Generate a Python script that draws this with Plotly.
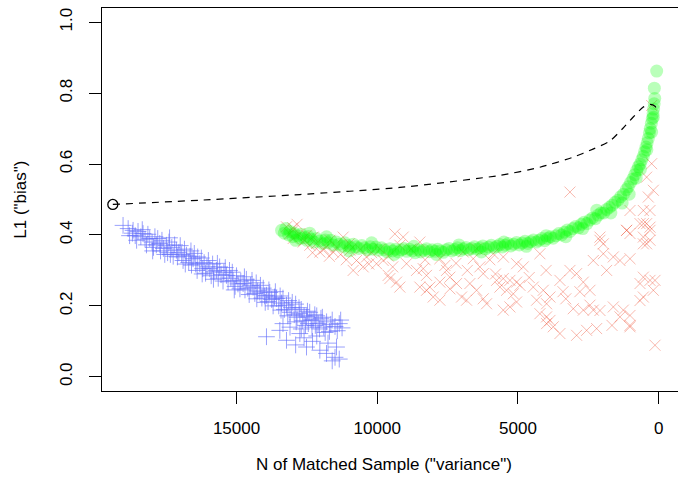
import plotly.graph_objects as go

# frontier (dashed) path, starts at the open circle
front_x = [19396, 16306, 12751, 9196, 5641, 4220, 3047, 2336, 1731, 1269, 913, 558, 309, 131, 25]
front_y = [0.486, 0.498, 0.514, 0.534, 0.568, 0.591, 0.619, 0.642, 0.665, 0.701, 0.732, 0.760, 0.768, 0.763, 0.746]

# blue "+" cloud
blue_x = [19032, 18850, 18700, 18676, 18600, 18500, 18400, 18321, 18250, 18200, 18084, 18000, 17950, 17900,
          17850, 17728, 17700, 17650, 17600, 17491, 17450, 17400, 17350, 17300, 17200, 17136, 17100, 17050,
          16950, 16900, 16850, 16780, 16700, 16650, 16600, 16543, 16500, 16450, 16400, 16306, 16250, 16200,
          16150, 16100, 16050, 15950, 15900, 15850, 15800, 15714, 15650, 15600, 15550, 15450, 15358, 15300,
          15250, 15200, 15121, 15050, 15000, 14950, 14850, 14766, 14700, 14650, 14600, 14500, 14410, 14350,
          14300, 14250, 14173, 14100, 14050, 14000, 13936, 13880, 13820, 13750, 13650, 13581, 13500, 13450,
          13400, 13300, 13225, 13150, 13100, 13050, 12950, 12900, 12850, 12751, 12700, 12650, 12600, 12514,
          12450, 12400, 12350, 12277, 12200, 12150, 12100, 12000, 11900, 11800, 11650, 11500, 11350, 11250,
          11700, 13936, 13462, 13225, 12751, 12514, 12040, 11803, 11447, 11500, 11350, 12300, 12900, 13100,
          12600,
          18800, 18550, 18350, 18150, 17980, 17800, 17550, 17380, 17250, 17000, 16820, 16620, 16380, 16220,
          16000, 15820, 15680, 15480, 15400, 15150, 15080, 14880, 14720, 14550, 14450, 14280, 14150, 13980,
          13850, 13700, 13620, 13420, 13350, 13180, 13020, 12880, 12780, 12550, 12480, 12320, 12220, 12050,
          11950, 11850, 11600, 11420, 11300, 11750, 12150, 12700, 13350, 11600]
blue_y = [0.427, 0.418, 0.405, 0.413, 0.398, 0.410, 0.395, 0.404, 0.388, 0.372, 0.390, 0.380, 0.365, 0.395,
          0.372, 0.376, 0.355, 0.385, 0.362, 0.371, 0.350, 0.380, 0.345, 0.365, 0.372, 0.357, 0.338, 0.350,
          0.345, 0.328, 0.360, 0.343, 0.322, 0.340, 0.315, 0.333, 0.348, 0.318, 0.300, 0.319, 0.335, 0.305,
          0.322, 0.292, 0.310, 0.305, 0.285, 0.318, 0.296, 0.300, 0.278, 0.310, 0.288, 0.295, 0.286, 0.268,
          0.300, 0.278, 0.272, 0.255, 0.285, 0.262, 0.270, 0.263, 0.245, 0.275, 0.250, 0.258, 0.253, 0.235,
          0.265, 0.242, 0.239, 0.222, 0.250, 0.228, 0.230, 0.212, 0.238, 0.218, 0.225, 0.221, 0.200, 0.228,
          0.208, 0.190, 0.202, 0.215, 0.182, 0.195, 0.175, 0.205, 0.168, 0.178, 0.190, 0.158, 0.172, 0.169,
          0.150, 0.182, 0.160, 0.160, 0.145, 0.172, 0.150, 0.165, 0.140, 0.155, 0.148, 0.142, 0.150, 0.138,
          0.128, 0.113, 0.131, 0.103, 0.122, 0.084, 0.075, 0.066, 0.084, 0.055, 0.050, 0.100, 0.090, 0.140,
          0.110,
          0.398, 0.385, 0.415, 0.402, 0.355, 0.390, 0.345, 0.392, 0.340, 0.370, 0.318, 0.355, 0.338, 0.290,
          0.328, 0.275, 0.320, 0.270, 0.308, 0.295, 0.245, 0.248, 0.282, 0.232, 0.272, 0.220, 0.258, 0.210,
          0.245, 0.200, 0.240, 0.188, 0.222, 0.172, 0.210, 0.155, 0.195, 0.145, 0.185, 0.140, 0.175, 0.135,
          0.168, 0.125, 0.160, 0.130, 0.160, 0.095, 0.115, 0.135, 0.150, 0.045]

# red "x" cloud
red_x = [13225, 12988, 12751, 12988, 12632, 12395, 12158, 11803, 11566, 12040, 12514, 13107, 12277, 11684,
         11211, 11448, 10974, 10737, 10382, 10026, 9789, 10500, 10856, 9374, 9078, 9197, 8486, 9552, 9315,
         9197, 9611, 8960, 8604, 8367, 8249, 8130, 8249, 8012, 7775, 8486, 7775, 7597, 7538, 7419, 7182,
         7775, 7419, 7004, 6827, 6945, 6590, 6353, 6234, 6708, 6471, 6234, 6116, 6471, 5878, 5523, 5760,
         5523, 5286, 5049, 5641, 5405, 5168, 4931, 5523, 5286, 5049, 5049, 4812, 4457, 4101, 3864, 4338,
         3983, 4220, 4220, 3983, 3864, 3746, 3983, 3509, 2916, 2561, 2205, 3509, 3153, 2916, 2679, 2442,
         3035, 2679, 2324, 2442, 2087, 2324, 1968, 1613, 1376, 1020, 1850, 1613, 1257, 1020, 1376, 1020,
         1139, 546, 309, 309, 546, 546, 309, 191, 664, 546, 131, 3153, 250, 250, 428, 191, 369, 1020, 546,
         309, 428, 664, 309, 546, 428, 1139, 1020, 2087, 1968, 665, 1020, 130, 1660, 2087, 11900, 11700,
         11300, 11100, 10600, 10200, 9900, 12300, 12600, 13000, 12850, 11000, 10300, 9600, 9450, 8800, 8300,
         7200, 6800, 6000, 5800, 4600, 4000, 3400, 3300, 2800]
red_y = [0.423, 0.413, 0.404, 0.390, 0.380, 0.371, 0.376, 0.366, 0.352, 0.352, 0.399, 0.404, 0.394, 0.385,
         0.394, 0.366, 0.357, 0.328, 0.338, 0.319, 0.328, 0.310, 0.300, 0.403, 0.394, 0.371, 0.380, 0.277,
         0.267, 0.253, 0.286, 0.319, 0.300, 0.305, 0.286, 0.253, 0.244, 0.225, 0.216, 0.253, 0.333, 0.314,
         0.300, 0.281, 0.263, 0.267, 0.248, 0.225, 0.216, 0.352, 0.333, 0.310, 0.291, 0.263, 0.244, 0.220,
         0.206, 0.361, 0.347, 0.338, 0.272, 0.277, 0.272, 0.267, 0.253, 0.244, 0.234, 0.258, 0.188, 0.197,
         0.211, 0.319, 0.310, 0.253, 0.244, 0.225, 0.216, 0.206, 0.347, 0.178, 0.169, 0.159, 0.141, 0.150,
         0.122, 0.117, 0.131, 0.136, 0.272, 0.300, 0.291, 0.267, 0.244, 0.192, 0.188, 0.188, 0.202, 0.385,
         0.328, 0.347, 0.338, 0.328, 0.333, 0.300, 0.197, 0.188, 0.173, 0.169, 0.141, 0.413, 0.432, 0.422,
         0.385, 0.375, 0.281, 0.272, 0.244, 0.263, 0.225, 0.089, 0.521, 0.765, 0.601, 0.563, 0.526, 0.507,
         0.469, 0.469, 0.469, 0.432, 0.432, 0.413, 0.394, 0.375, 0.413, 0.404, 0.394, 0.375, 0.215, 0.145,
         0.272, 0.145, 0.187, 0.360, 0.340, 0.345, 0.330, 0.360, 0.350, 0.360, 0.350, 0.385, 0.420, 0.430,
         0.375, 0.318, 0.340, 0.310, 0.360, 0.330, 0.320, 0.300, 0.330, 0.290, 0.280, 0.300, 0.240, 0.220,
         0.240]

# green circles
green_x = [13400, 13300, 13250, 13150, 13100, 13000, 12950, 12850, 12750, 12700, 12600, 12500, 12450, 12350,
           12250, 12150, 12050, 11950, 11850, 11750, 11650, 11550, 11450, 11350, 11250, 11150, 11050, 10950,
           10850, 10750, 10650, 10550, 10450, 10350, 10250, 10150, 10050, 9950, 9850, 9750, 9650, 9550, 9450,
           9350, 9250, 9150, 9050, 8950, 8850, 8750, 8650, 8550, 8450, 8350, 8250, 8150, 8050, 7950, 7850,
           7750, 7650, 7550, 7450, 7350, 7250, 7150, 7050, 6950, 6850, 6750, 6650, 6550, 6450, 6350, 6250,
           6150, 6050, 5950, 5850, 5750, 5650, 5550, 5450, 5350, 5250, 5150, 5050, 4950, 4850, 4750, 4650,
           4550, 4450, 4350, 4250, 4150, 4050, 3950, 3850, 3750, 3650, 3550, 3450, 3350, 3250, 3150, 3050,
           2950, 2850, 2750, 2650, 2550, 2450, 2350, 2250, 2150, 2050, 1950, 1850, 1750, 1650, 1550, 1450,
           1350, 1250, 1150, 1080, 1000, 920, 850, 780, 720, 660, 600, 546, 500, 450, 410, 370, 330, 300, 260,
           230, 200, 180, 160, 140, 155, 72,
           12900, 12400, 11800, 11000, 10200, 9400, 8700, 7900, 7100, 6300, 5500, 4700, 4000, 3300, 2700,
           2200, 1700, 1300, 1050, 800, 650, 420, 250, 190]
green_y = [0.413, 0.405, 0.418, 0.400, 0.410, 0.395, 0.405, 0.398, 0.390, 0.402, 0.392, 0.385, 0.396, 0.388,
           0.380, 0.390, 0.383, 0.376, 0.386, 0.378, 0.385, 0.372, 0.380, 0.374, 0.368, 0.378, 0.370, 0.365,
           0.374, 0.367, 0.362, 0.370, 0.364, 0.358, 0.367, 0.360, 0.366, 0.357, 0.364, 0.358, 0.352, 0.361,
           0.355, 0.360, 0.352, 0.358, 0.362, 0.354, 0.360, 0.355, 0.350, 0.358, 0.352, 0.357, 0.361, 0.353,
           0.358, 0.354, 0.360, 0.355, 0.351, 0.358, 0.362, 0.355, 0.359, 0.364, 0.356, 0.361, 0.365, 0.358,
           0.362, 0.367, 0.360, 0.364, 0.369, 0.361, 0.366, 0.371, 0.364, 0.368, 0.373, 0.366, 0.371, 0.376,
           0.369, 0.374, 0.379, 0.372, 0.377, 0.382, 0.376, 0.381, 0.386, 0.380, 0.385, 0.390, 0.384, 0.390,
           0.395, 0.391, 0.398, 0.404, 0.400, 0.408, 0.414, 0.410, 0.418, 0.424, 0.420, 0.430, 0.436, 0.432,
           0.442, 0.448, 0.446, 0.456, 0.462, 0.462, 0.472, 0.478, 0.484, 0.492, 0.498, 0.508, 0.515, 0.528,
           0.536, 0.548, 0.558, 0.570, 0.582, 0.592, 0.600, 0.612, 0.622, 0.635, 0.648, 0.660, 0.672, 0.688,
           0.700, 0.715, 0.728, 0.742, 0.755, 0.770, 0.785, 0.814, 0.862,
           0.385, 0.405, 0.395, 0.355, 0.378, 0.345, 0.368, 0.345, 0.372, 0.352, 0.380, 0.368, 0.398, 0.395,
           0.418, 0.470, 0.462, 0.490, 0.515, 0.560, 0.585, 0.640, 0.690, 0.732]

x_ticks = [15000, 10000, 5000, 0]
y_ticks = [0.0, 0.2, 0.4, 0.6, 0.8, 1.0]

FONT = "Liberation Sans, Arial, sans-serif"

fig = go.Figure()
fig.add_trace(go.Scatter(x=blue_x, y=blue_y, mode="markers",
                         marker=dict(symbol="cross-thin-open", size=12, opacity=0.65,
                                     line=dict(color="rgb(0,0,255)", width=1))))
fig.add_trace(go.Scatter(x=red_x, y=red_y, mode="markers",
                         marker=dict(symbol="x-thin-open", size=11, opacity=0.42,
                                     line=dict(color="rgb(255,0,0)", width=1))))
fig.add_trace(go.Scatter(x=green_x, y=green_y, mode="markers",
                         marker=dict(symbol="circle", size=13, color="rgb(0,255,0)", opacity=0.27,
                                     line=dict(width=0))))
fig.add_trace(go.Scatter(x=front_x, y=front_y, mode="lines",
                         line=dict(color="black", width=1.2, dash="7px,6px", shape="spline", smoothing=0.6)))
fig.add_trace(go.Scatter(x=front_x[:1], y=front_y[:1], mode="markers",
                         marker=dict(symbol="circle-open", size=10, color="black", line=dict(width=1.3))))

fig.update_layout(
    width=678, height=487,
    margin=dict(l=102, r=0, t=8, b=96, autoexpand=False),
    paper_bgcolor="white", plot_bgcolor="white",
    showlegend=False,
    font=dict(family=FONT, size=17, color="black"),
    xaxis=dict(range=[19780, -686], tickvals=x_ticks, ticktext=[str(v) for v in x_ticks],
               showgrid=False, zeroline=False, showline=True, linecolor="black", linewidth=1,
               mirror=True, ticks="outside", ticklen=12, tickcolor="black", ticklabelstandoff=10,
               automargin=False),
    yaxis=dict(range=[-0.04, 1.04], tickvals=y_ticks, ticktext=["%.1f" % v for v in y_ticks],
               tickangle=-90, showgrid=False, zeroline=False, showline=True, linecolor="black",
               linewidth=1, ticks="outside", ticklen=12, tickcolor="black", ticklabelstandoff=10,
               automargin=False),
    annotations=[
        dict(text='N of Matched Sample ("variance")', xref="paper", yref="paper",
             x=0.49, y=-0.193, showarrow=False, xanchor="center", yanchor="middle"),
        dict(text='L1 ("bias")', xref="paper", yref="paper", textangle=-90,
             x=-0.142, y=0.5, showarrow=False, xanchor="center", yanchor="middle"),
    ],
)

# page body has a default 8px margin; drop it so the figure sits at the corner
fig.write_html("out.html", config={"displayModeBar": False},
               post_script="document.body.style.margin='0';")
